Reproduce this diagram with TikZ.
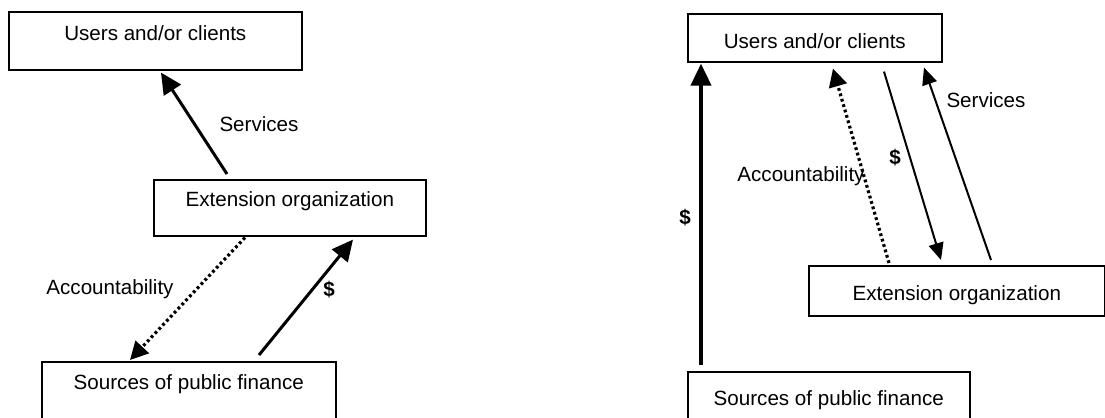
\documentclass[tikz,border=0pt]{standalone}
\usepackage{fontspec}
\setmainfont{Liberation Sans}
\usetikzlibrary{arrows.meta,calc}

\begin{document}
\begin{tikzpicture}[x=0.5pt,y=-0.5pt,
    font=\fontsize{10.3}{12}\selectfont,
    box/.style={draw,line width=0.8pt,inner sep=0pt,anchor=north west},
    flow/.style={line width=1.5pt,-{Triangle[length=10.5pt,width=10pt]}},
    bigflow/.style={line width=2pt,-{Triangle[length=11pt,width=10pt]}},
    thinflow/.style={line width=1pt,-{Triangle[length=8.5pt,width=7.5pt]}},
    dotflow/.style={line width=1.6pt,dash pattern=on 1.4pt off 1.4pt,-{Triangle[length=9pt,width=9pt]}}]
            \useasboundingbox (0,0) rectangle (1105,418);
            \clip (0,0) rectangle (1105,418);
            % left: finance goes through the organization
            \node[box,minimum width=146.5pt,text height=14.2pt,text depth=14.8pt] (usersL) at (8,11) {Users and/or clients};
            \node[box,minimum width=136pt,text height=13.2pt,text depth=14.8pt] (extL) at (153,179) {Extension organization};
            \node[box,minimum width=147pt,text height=13.7pt,text depth=25.8pt] (srcL) at (41,361) {Sources of public finance};
            \draw[flow] ($(extL.north west)+(74,-5)$) -- ($(usersL.south west)+(153,2)$);
            \draw[dotflow] ($(extL.south west)+(92,1)$) -- ($(srcL.north west)+(89,-1)$);
            \draw[flow] ($(srcL.north west)+(218,-6)$) -- ($(extL.south west)+(200,3)$);
            \node (servL) at (259,124) {Services};
            \node (accL) at (110,289) {Accountability};
            \node[font=\fontsize{10.3}{12}\selectfont\bfseries] (cashL) at (329,290) {\$};
            % right: finance goes to the users
            \node[box,minimum width=127pt,text height=17.2pt,text depth=6.8pt] (usersR) at (687,13) {Users and/or clients};
            \node[box,minimum width=148pt,text height=17.2pt,text depth=7.8pt] (extR) at (808,265) {Extension organization};
            \node[box,minimum width=141pt,text height=16.7pt,text depth=17.8pt] (srcR) at (687,371) {Sources of public finance};
            \draw[bigflow] ($(srcR.north west)+(14,-6)$) -- ($(usersR.south west)+(14,1)$);
            \draw[dotflow] ($(extR.north west)+(81,-2)$) -- ($(usersR.south west)+(146,6)$);
            \draw[thinflow] ($(usersR.south west)+(197,9)$) -- ($(extR.north west)+(133,-5)$);
            \draw[thinflow] ($(extR.north west)+(183,-5)$) -- ($(usersR.south west)+(237,5)$);
            \node (servR) at (986,100) {Services};
            \node (accR) at (801,176) {Accountability};
            \node[font=\fontsize{10.3}{12}\selectfont\bfseries] (cashR) at (895,158) {\$};
            \node[font=\fontsize{10.3}{12}\selectfont\bfseries] (cashSrc) at (685,218) {\$};
        \end{tikzpicture}
\end{document}
